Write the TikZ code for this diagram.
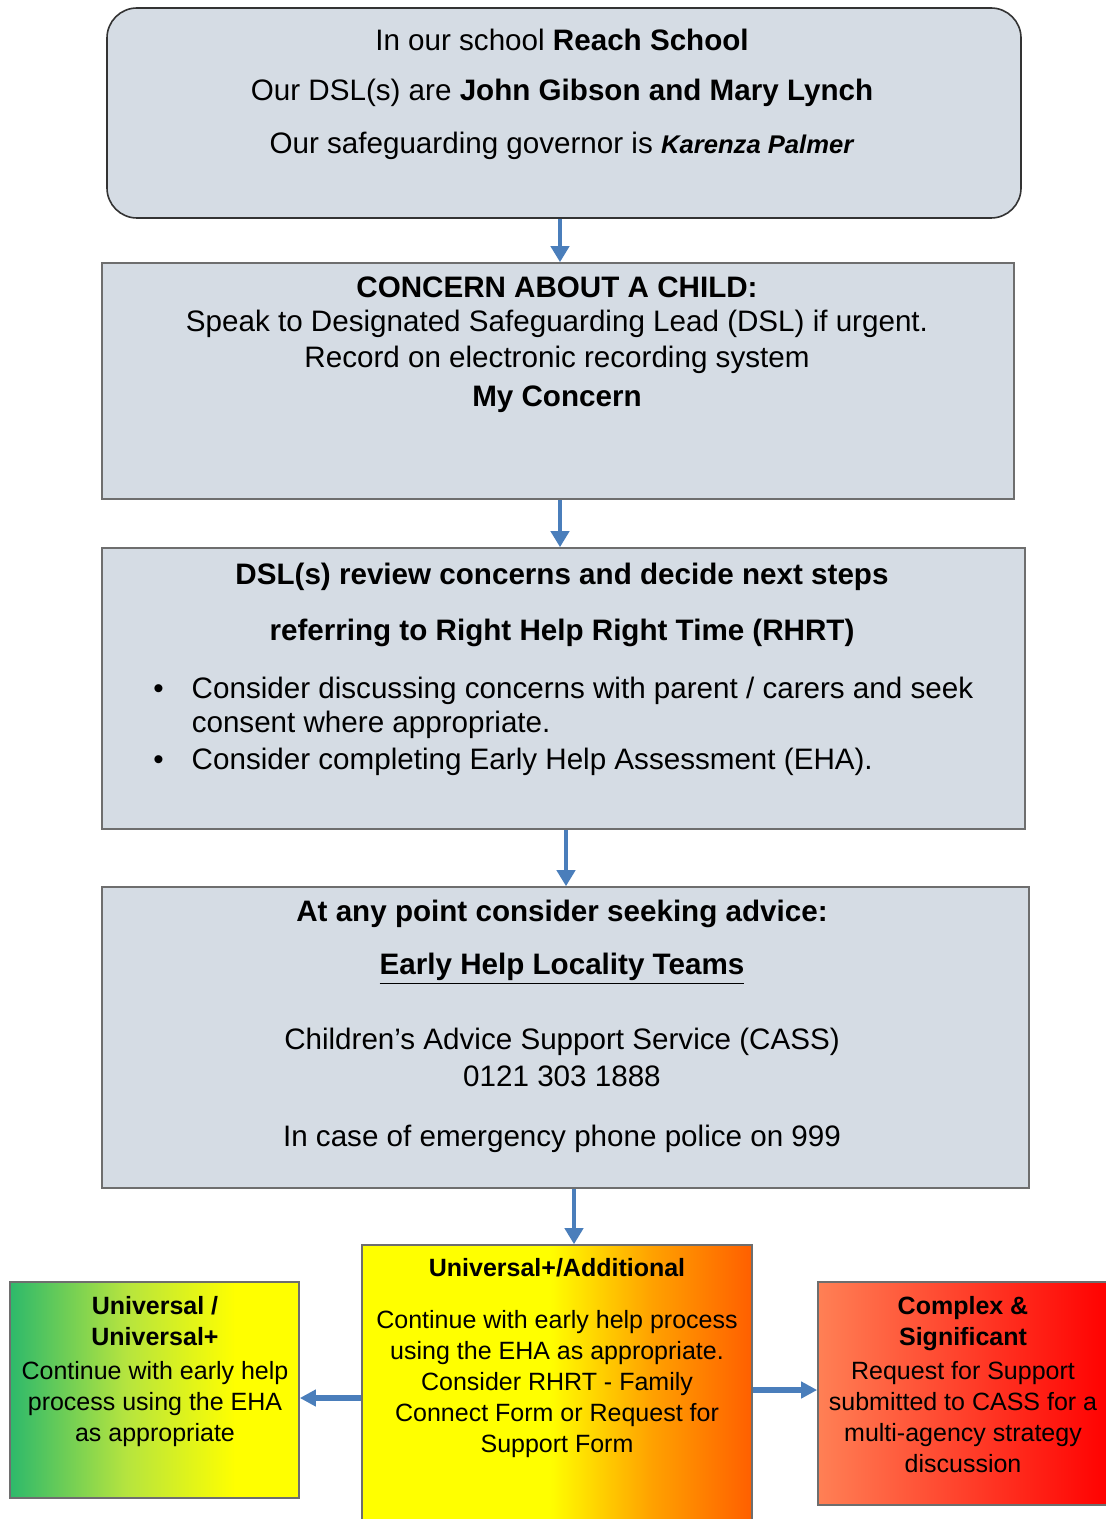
\documentclass[tikz,border=0pt]{standalone}
\usepackage{fontspec}
\setmainfont{Liberation Sans}
\usepackage{tikz}
\usetikzlibrary{arrows.meta, shadings}

\definecolor{boxfill}{HTML}{D5DCE4}
\definecolor{boxline}{HTML}{6E6E6E}
\definecolor{flowblue}{HTML}{4A7EBB}
\definecolor{ehgreen}{HTML}{2DB96B}
\definecolor{ehlime}{HTML}{B5E43F}
\definecolor{ehorange}{HTML}{FFA200}
\definecolor{ehdeep}{HTML}{FF5F00}
\definecolor{ehcoral}{HTML}{FF8055}
\pgfdeclarehorizontalshading{universalramp}{100bp}{color(0bp)=(ehgreen); color(25bp)=(ehgreen); color(45bp)=(ehlime); color(64bp)=(yellow); color(100bp)=(yellow)}
\pgfdeclarehorizontalshading{additionalramp}{100bp}{color(0bp)=(yellow); color(49bp)=(yellow); color(62bp)=(ehorange); color(75bp)=(ehdeep); color(100bp)=(ehdeep)}
\pgfdeclarehorizontalshading{complexramp}{100bp}{color(0bp)=(ehcoral); color(25bp)=(ehcoral); color(75bp)=(red); color(100bp)=(red)}

\newcommand{\mainsize}{\fontsize{14.8}{17}\selectfont}
\newcommand{\smallsize}{\fontsize{12.5}{15.5}\selectfont}

\begin{document}
\begin{tikzpicture}[x=0.5pt, y=-0.5pt, >={Triangle[width=9pt, length=8pt]}]
            \tikzset{infobox/.style={rectangle, draw=boxline, line width=0.8pt, fill=boxfill, inner sep=0pt}};
            \tikzset{levelbox/.style={rectangle, draw=boxline, line width=0.8pt, inner sep=0pt}};
            \tikzset{boxtext/.style={anchor=north, inner sep=0pt, align=center, font=\mainsize}};
            \tikzset{leveltext/.style={anchor=north, inner sep=0pt, align=center, font=\smallsize}};
            \tikzset{flow/.style={->, draw=flowblue, line width=2pt}};
            \tikzset{sideflow/.style={->, draw=flowblue, line width=2.6pt, >={Triangle[width=8pt, length=8pt]}}};
            \useasboundingbox (0, 0) rectangle (1105, 1519);
            % School and contacts
            \node[infobox, draw=black!80, rounded corners=15pt, minimum width=457pt, minimum height=105pt] (school) at (564, 113) {};
            \node[boxtext] (schooltext) at (562, 29) {In our school \textbf{Reach School}\\[8pt]
                Our DSL(s) are \textbf{John Gibson and Mary Lynch}\\[9.5pt]
                Our safeguarding governor is {\fontsize{12.8}{17}\selectfont\textbf{\textit{Karenza Palmer}}}};
            % Concern
            \node[infobox, minimum width=456pt, minimum height=118pt] (concern) at (558, 381) {};
            \node[boxtext] (concerntext) at (557, 276) {\textbf{CONCERN ABOUT A CHILD:}\\
                Speak to Designated Safeguarding Lead (DSL) if urgent.\\[1pt]
                Record on electronic recording system\\[2.5pt]
                \textbf{My Concern}};
            % Review
            \node[infobox, minimum width=461.5pt, minimum height=140.5pt] (review) at (563.5, 688.5) {};
            \node[boxtext] (reviewtext) at (562, 563) {\textbf{DSL(s) review concerns and decide next steps}\\[11pt]
                \textbf{referring to Right Help Right Time (RHRT)}};
            \node[anchor=north west, inner sep=0pt, font=\mainsize] (reviewlist) at (153, 674) {%
                \begin{tabular}{@{}l@{\hspace{14pt}}l@{}}
                \textbullet & Consider discussing concerns with parent / carers and seek\\
                            & consent where appropriate.\\[1.5pt]
                \textbullet & Consider completing Early Help Assessment (EHA).
                \end{tabular}};
            % Advice
            \node[infobox, minimum width=463.5pt, minimum height=150.5pt] (advice) at (565.5, 1037.5) {};
            \node[boxtext] (advicetext) at (562, 900) {\textbf{At any point consider seeking advice:}\\[9.5pt]
                \textbf{\underline{Early Help Locality Teams}}\\[20.5pt]
                Children's Advice Support Service (CASS)\\[1.5pt]
                0121 303 1888\\[13pt]
                In case of emergency phone police on 999};
            % Levels of need
            \node[levelbox, shading=additionalramp, minimum width=195pt, minimum height=142.5pt] (additional) at (557, 1387.5) {};
            \node[leveltext] (additionaltext) at (557, 1258) {\textbf{Universal+/Additional}\\[10.5pt]
                Continue with early help process\\
                using the EHA as appropriate.\\
                Consider RHRT - Family\\
                Connect Form or Request for\\
                Support Form};
            \node[levelbox, shading=universalramp, minimum width=144.5pt, minimum height=108pt] (universal) at (154.5, 1390) {};
            \node[leveltext] (universaltext) at (155, 1296) {\textbf{Universal /}\\
                \textbf{Universal+}\\[1.5pt]
                Continue with early help\\
                process using the EHA\\
                as appropriate};
            \node[levelbox, shading=complexramp, minimum width=146pt, minimum height=111.5pt] (complex) at (964, 1393.5) {};
            \node[leveltext] (complextext) at (963, 1296) {\textbf{Complex \&}\\
                \textbf{Significant}\\[1.5pt]
                Request for Support\\
                submitted to CASS for a\\
                multi-agency strategy\\
                discussion};
            % Arrows
            \draw[flow] ([xshift=-2pt]school.south) -- ([xshift=1pt]concern.north);
            \draw[flow] ([xshift=1pt]concern.south) -- ([xshift=-1.75pt]review.north);
            \draw[flow] ([xshift=1.25pt]review.south) -- ([xshift=0.25pt]advice.north);
            \draw[flow] ([xshift=4.25pt]advice.south) -- ([xshift=8.5pt]additional.north);
            \draw[sideflow] ([yshift=-5.25pt]additional.west) -- ([yshift=-4pt]universal.west -| universal.east);
            \draw[sideflow] ([yshift=-1.25pt]additional.east) -- ([yshift=1.75pt]complex.west);
\end{tikzpicture}
\end{document}
